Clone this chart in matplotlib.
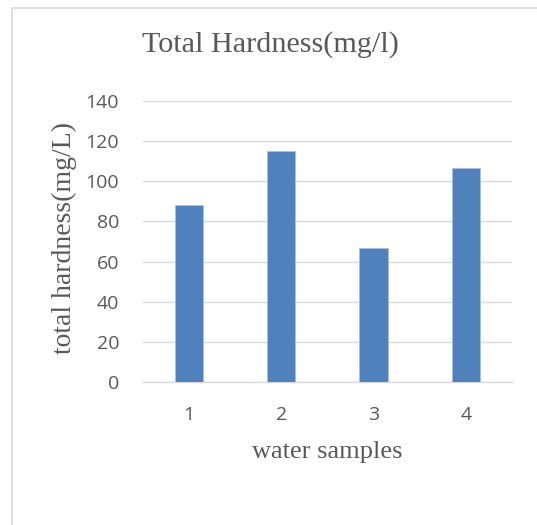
import matplotlib
matplotlib.use("Agg")
import matplotlib.pyplot as plt
from matplotlib.patches import Rectangle

# water sample results
samples = ["1", "2", "3", "4"]
hardness = [88.2, 115.2, 66.6, 106.4]
y_ticks = [0, 20, 40, 60, 80, 100, 120, 140]

bar_color = "#4F81BD"
grid_color = "#D9D9D9"
text_color = "#595959"
serif = ["Liberation Serif", "DejaVu Serif"]
sans = ["Open Sans", "DejaVu Sans"]

fig = plt.figure(figsize=(5.37, 5.25), dpi=100)
fig.patch.set_facecolor("white")

# chart-area border (runs off the right and bottom edges)
fig.patches.append(Rectangle((12 / 537, -0.1), 1.2, 1.1 - 8 / 525,
                             transform=fig.transFigure, fill=False,
                             edgecolor=grid_color, linewidth=1.2))

ax = fig.add_axes([0.2657, 0.2718, 0.6877, 0.5364])
x = range(len(samples))
ax.bar(x, hardness, width=0.307, color=bar_color, edgecolor="#A9C1E0",
       linewidth=0.6, zorder=3)

ax.set_xlim(-0.5, len(samples) - 0.5)
ax.set_ylim(0, 140)
ax.set_yticks(y_ticks)
ax.set_xticks(list(x))
ax.set_xticklabels(samples)
ax.yaxis.grid(True, color=grid_color, linewidth=1.0, zorder=0)
ax.set_axisbelow(True)
for side in ["top", "right", "left"]:
    ax.spines[side].set_visible(False)
ax.spines["bottom"].set_color(grid_color)
ax.spines["bottom"].set_linewidth(1.0)
ax.tick_params(axis="both", length=0, colors=text_color, labelsize=14)
ax.tick_params(axis="y", pad=17)
ax.tick_params(axis="x", pad=17)
for lab in ax.get_xticklabels() + ax.get_yticklabels():
    lab.set_family(sans)

ax.set_xlabel("water samples", family=serif, fontsize=19, color=text_color,
              labelpad=12)
ax.set_ylabel("total hardness(mg/L)", family=serif, fontsize=20,
              color=text_color)
ax.yaxis.set_label_coords(-0.178, 0.514)
fig.text(0.503, 0.916, "Total Hardness(mg/l)", family=serif, fontsize=21.7,
         color=text_color, ha="center", va="center")

fig.savefig("out.png", dpi=100)
